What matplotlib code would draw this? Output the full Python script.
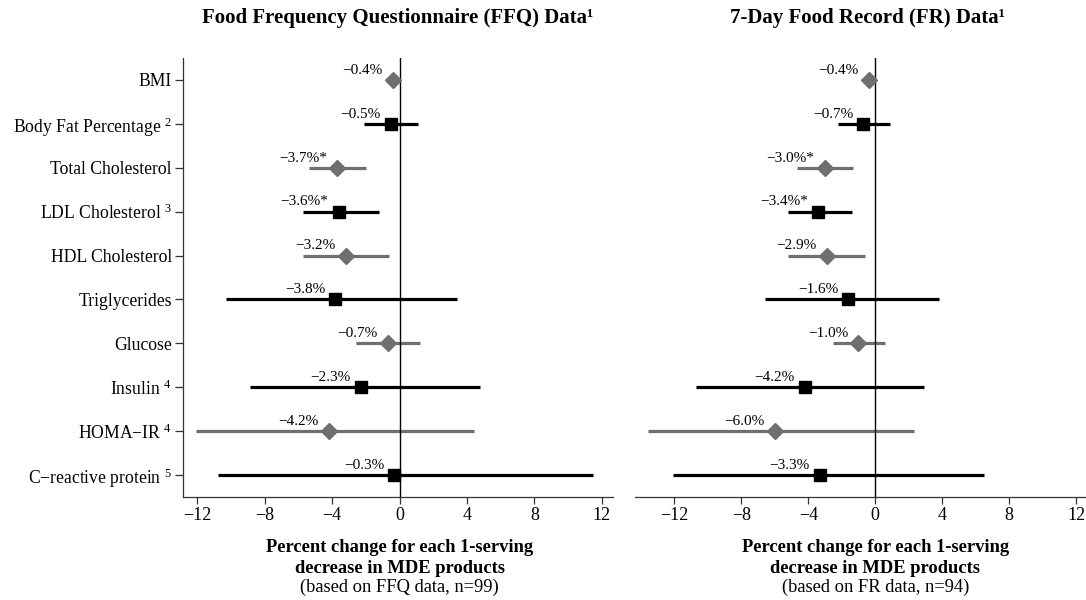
import matplotlib
matplotlib.use('Agg')
import matplotlib.pyplot as plt
import matplotlib.transforms as mtransforms

plt.rcParams['font.family'] = ['Liberation Serif', 'DejaVu Serif']
plt.rcParams['mathtext.fontset'] = 'custom'
plt.rcParams['mathtext.rm'] = 'Liberation Serif'
plt.rcParams['mathtext.it'] = 'Liberation Serif:italic'
plt.rcParams['mathtext.bf'] = 'Liberation Serif:bold'
plt.rcParams['axes.unicode_minus'] = True

# ---- data ----
outcomes = ['BMI', 'Body Fat Percentage $^{2}$', 'Total Cholesterol',
            'LDL Cholesterol $^{3}$', 'HDL Cholesterol', 'Triglycerides',
            'Glucose', 'Insulin $^{4}$', 'HOMA\u2212IR $^{4}$',
            'C\u2212reactive protein $^{5}$']

ffq_est = [-0.4, -0.5, -3.7, -3.6, -3.2, -3.8, -0.7, -2.3, -4.2, -0.3]
ffq_lo = [-0.7, -2.1, -5.4, -5.7, -5.7, -10.3, -2.6, -8.9, -12.1, -10.8]
ffq_hi = [-0.1, 1.1, -2.0, -1.2, -0.6, 3.4, 1.2, 4.8, 4.4, 11.5]
ffq_sig = [False, False, True, True, False, False, False, False, False, False]

fr_est = [-0.4, -0.7, -3.0, -3.4, -2.9, -1.6, -1.0, -4.2, -6.0, -3.3]
fr_lo = [-0.7, -2.2, -4.7, -5.2, -5.2, -6.6, -2.5, -10.7, -13.6, -12.1]
fr_hi = [-0.1, 0.9, -1.3, -1.4, -0.6, 3.8, 0.6, 2.9, 2.3, 6.5]
fr_sig = [False, False, True, True, False, False, False, False, False, False]

xticks = [-12, -8, -4, 0, 4, 8, 12]

GRAY = '#6f6f6f'
BLACK = '#000000'

W, H = 1086, 600
fig = plt.figure(figsize=(W / 100, H / 100), dpi=100)
fig.patch.set_facecolor('white')

ax1 = fig.add_axes([183 / W, 103 / H, 430 / W, 439 / H])
ax2 = fig.add_axes([635 / W, 103 / H, 464 / W, 439 / H])


def draw_panel(ax, est, lo, hi, sig):
    for i in range(len(est)):
        if i % 2 == 0:
            col, mk, ms = GRAY, 'D', 8.5
        else:
            col, mk, ms = BLACK, 's', 9
        ax.hlines(i, lo[i], hi[i], color=col, lw=2.3, zorder=2)
        ax.plot(est[i], i, marker=mk, ms=ms, color=col, mec=col, zorder=4)
        lab = '\u2212%.1f%%' % abs(est[i]) + ('*' if sig[i] else '')
        ax.annotate(lab, xy=(est[i], i), xytext=(-7.5, 4.5),
                    textcoords='offset points', ha='right', va='baseline',
                    fontsize=11, color='black', zorder=5)
    ax.axvline(0, color='black', lw=1.0, zorder=3)
    ax.set_ylim(len(est) - 0.5, -0.5)
    ax.set_xticks(xticks)
    ax.set_xticklabels(['\u2212%d' % abs(t) if t < 0 else str(t) for t in xticks])
    ax.tick_params(axis='x', direction='out', length=5, width=0.9,
                   labelsize=13, pad=2, color='#333333')
    for s in ['top', 'right']:
        ax.spines[s].set_visible(False)
    ax.spines['bottom'].set_linewidth(0.9)
    ax.spines['left'].set_linewidth(0.9)
    ax.spines['bottom'].set_color('#333333')
    ax.spines['left'].set_color('#333333')


draw_panel(ax1, ffq_est, ffq_lo, ffq_hi, ffq_sig)
draw_panel(ax2, fr_est, fr_lo, fr_hi, fr_sig)

ax1.set_xlim(-12.85, 12.67)
ax2.set_xlim(-14.35, 13.37)

ax1.set_yticks(range(len(outcomes)))
ax1.set_yticklabels(outcomes)
ax1.tick_params(axis='y', direction='out', length=6, width=0.9,
                labelsize=12.7, pad=2, color='#333333')
ax2.spines['left'].set_visible(False)
ax2.tick_params(axis='y', left=False, labelleft=False)

titles = ['Food Frequency Questionnaire (FFQ) Data\u00b9',
          '7-Day Food Record (FR) Data\u00b9']
sources = ['(based on FFQ data, n=99)', '(based on FR data, n=94)']

for ax, title, src in zip([ax1, ax2], titles, sources):
    ax.text(0.5, 1.091, title, transform=ax.transAxes, ha='center',
            va='center', fontsize=15, fontweight='bold')
    trans = mtransforms.blended_transform_factory(ax.transData, ax.transAxes)
    ax.text(0, -0.114, 'Percent change for each 1-serving', transform=trans,
            ha='center', va='center', fontsize=13.3, fontweight='bold')
    ax.text(0, -0.162, 'decrease in MDE products', transform=trans,
            ha='center', va='center', fontsize=13.3, fontweight='bold')
    ax.text(0, -0.205, src, transform=trans,
            ha='center', va='center', fontsize=13.3)

fig.savefig('out.png', dpi=100)
